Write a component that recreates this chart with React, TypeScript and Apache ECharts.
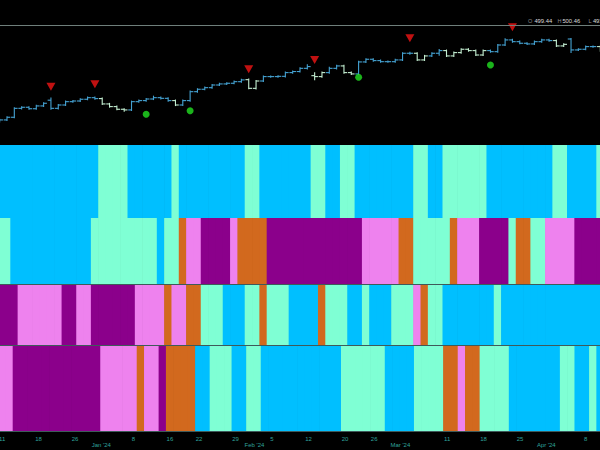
import React, { useEffect, useRef } from "react";
import * as echarts from "echarts";

const dates = [
  "2023-12-11","2023-12-12","2023-12-13","2023-12-14","2023-12-15","2023-12-18","2023-12-19","2023-12-20","2023-12-21","2023-12-22",
  "2023-12-26","2023-12-27","2023-12-28","2023-12-29","2024-01-02","2024-01-03","2024-01-04","2024-01-05","2024-01-08","2024-01-09",
  "2024-01-10","2024-01-11","2024-01-12","2024-01-16","2024-01-17","2024-01-18","2024-01-19","2024-01-22","2024-01-23","2024-01-24",
  "2024-01-25","2024-01-26","2024-01-29","2024-01-30","2024-01-31","2024-02-01","2024-02-02","2024-02-05","2024-02-06","2024-02-07",
  "2024-02-08","2024-02-09","2024-02-12","2024-02-13","2024-02-14","2024-02-15","2024-02-16","2024-02-20","2024-02-21","2024-02-22",
  "2024-02-23","2024-02-26","2024-02-27","2024-02-28","2024-02-29","2024-03-01","2024-03-04","2024-03-05","2024-03-06","2024-03-07",
  "2024-03-08","2024-03-11","2024-03-12","2024-03-13","2024-03-14","2024-03-15","2024-03-18","2024-03-19","2024-03-20","2024-03-21",
  "2024-03-22","2024-03-25","2024-03-26","2024-03-27","2024-03-28","2024-04-01","2024-04-02","2024-04-03","2024-04-04","2024-04-05",
  "2024-04-08","2024-04-09","2024-04-10",
];

const open = [
  457.6, 458.8, 460.8, 467.5, 468.3, 467.2, 469.3, 473.6, 467.5, 470.0,
  472.5, 473.0, 474.3, 475.5, 474.8, 470.8, 468.8, 466.8, 466.3, 472.5,
  473.3, 474.5, 475.5, 475.0, 473.3, 470.0, 473.3, 480.0, 481.8, 483.0,
  485.0, 485.8, 486.3, 487.5, 489.0, 482.5, 488.0, 491.3, 491.3, 491.5,
  494.3, 495.1, 497.5, 492.0, 491.3, 494.3, 497.5, 499.3, 494.3, 493.3,
  502.3, 504.3, 503.3, 502.5, 502.5, 503.8, 508.8, 508.8, 503.8, 506.8,
  508.8, 510.8, 506.8, 509.3, 511.8, 510.8, 507.5, 510.8, 510.0, 515.0,
  518.8, 517.5, 516.3, 515.8, 517.5, 518.8, 518.3, 514.3, 519.5, 511.3,
  511.8, 513.8, 513.8,
];
const close = [
  458.8, 460.8, 467.5, 468.3, 467.2, 469.3, 471.3, 467.5, 470.0, 472.5,
  473.0, 474.3, 475.5, 474.8, 470.8, 468.8, 466.8, 466.3, 472.5, 473.3,
  474.5, 475.5, 475.0, 473.3, 470.0, 473.3, 480.0, 481.8, 483.0, 485.0,
  485.8, 486.3, 487.5, 488.8, 482.5, 488.0, 491.3, 491.3, 491.5, 494.3,
  495.1, 497.5, 498.8, 491.3, 494.3, 497.5, 499.3, 494.3, 493.3, 502.3,
  504.3, 503.3, 502.5, 502.5, 503.8, 508.8, 508.8, 503.8, 506.8, 508.8,
  510.8, 506.8, 509.3, 511.8, 510.8, 507.5, 510.8, 510.0, 515.0, 518.8,
  517.5, 516.3, 515.8, 517.5, 518.8, 518.3, 514.3, 515.5, 511.3, 511.8,
  513.8, 513.8, 510.8,
];
const high = [
  459.6, 461.6, 468.3, 469.1, 469.1, 470.1, 472.1, 475.6, 470.8, 473.3,
  473.8, 475.1, 476.3, 476.3, 475.6, 471.6, 469.6, 467.6, 473.3, 474.1,
  475.3, 477.0, 476.3, 475.8, 474.1, 474.1, 480.8, 482.6, 483.8, 485.8,
  486.6, 487.1, 488.3, 489.6, 489.8, 488.8, 492.1, 492.1, 492.3, 495.1,
  495.9, 498.3, 500.5, 494.5, 495.1, 498.6, 500.1, 500.1, 495.1, 503.1,
  505.1, 505.1, 504.1, 503.3, 504.6, 509.6, 510.0, 509.6, 507.6, 509.6,
  512.0, 511.6, 510.1, 512.6, 512.6, 511.6, 511.6, 511.6, 515.8, 520.0,
  519.6, 518.3, 517.1, 518.3, 519.6, 519.6, 519.1, 516.3, 520.3, 512.6,
  514.6, 514.6, 514.6,
];
const low = [
  456.8, 458.0, 460.0, 466.7, 466.4, 466.4, 468.5, 466.5, 466.7, 469.2,
  471.7, 472.2, 473.5, 474.0, 470.0, 468.0, 466.0, 465.0, 465.5, 471.7,
  472.5, 473.7, 474.2, 472.5, 469.2, 469.2, 472.5, 479.2, 481.0, 482.2,
  484.2, 485.0, 485.5, 486.7, 481.8, 481.7, 487.2, 490.5, 490.5, 490.7,
  493.5, 494.3, 496.7, 488.5, 490.5, 493.5, 496.7, 493.5, 492.5, 492.5,
  501.5, 502.5, 501.7, 501.7, 501.7, 503.0, 507.6, 503.0, 503.0, 506.0,
  507.0, 506.0, 506.0, 508.5, 510.0, 506.7, 506.7, 509.2, 509.2, 514.2,
  516.7, 515.5, 515.0, 515.0, 516.7, 517.5, 513.5, 513.5, 509.0, 510.5,
  511.0, 513.0, 510.0,
];

// Signals
const sellDates = ["2023-12-20", "2023-12-29", "2024-01-31", "2024-02-13", "2024-03-04", "2024-03-22"];
const sellLevels = [483.7, 485.5, 496.8, 503.8, 520.0, 528.4];
const buyDates = ["2024-01-10", "2024-01-19", "2024-02-22", "2024-03-19"];
const buyLevels = [463.0, 465.7, 490.8, 500.0];

// Band panel states, one letter per trading day (B, A, P, V, C)
const bandTrend = "BBBBBBBBBBBBBBAAAABBBBBBABBBBBBBBBAABBBBBBBAABBAABBBBBBBBAABBAAAAAABBBBBBBBBAABBBBA".split("");
const bandCycle = "AABBBBBBBBBBBAAAAAAAAABAACVVPPPPVCCCCPPPPPPPPPPPPPVVVVVCCAAAAACVVVPPPPACCAAVVVVPPPP".split("");
const bandMomentum = "PPPVVVVVVPPVVPPPPPPVVVVCVVCCAAABBBAACAAABBBBCAAABBABBBAAAVCAABBBBBBBABBBBBBBBBBBBBB".split("");
const bandPressure = "VVPPPPPPPPPPPPVVVVVCVVPCCCCBBAAABBAABBBBBBBBBBBAAAAAABBBBAAAACCVCCAAAABBBBBBBAABBAB".split("");

const dayTicks = [
  "2023-12-11", "2023-12-18", "2023-12-26", "2024-01-08", "2024-01-16", "2024-01-22", "2024-01-29",
  "2024-02-05", "2024-02-12", "2024-02-20", "2024-02-26", "2024-03-11", "2024-03-18", "2024-03-25", "2024-04-08",
];
const monthTickDates = ["2024-01-02", "2024-02-01", "2024-03-01", "2024-04-01"];
const monthTickNames = ["Jan '24", "Feb '24", "Mar '24", "Apr '24"];

const BAND_COLORS: Record<string, string> = {
  B: "#00BFFF",
  A: "#7FFFD4",
  P: "#8B008B",
  V: "#EE82EE",
  C: "#D2691E",
};
const UP_COLOR = "#45a3d3";
const DOWN_COLOR = "#c4efd2";
const LABEL_COLOR = "#2fa39c";
const FONT = "'Liberation Sans', Arial, sans-serif";

// the chart canvas starts a little left of the visible frame so that the first day is cut in half
const SHIFT = 4.4;

export default function App() {
  const ref = useRef<HTMLDivElement>(null);

  useEffect(() => {
    if (!ref.current) return;
    const chart = echarts.init(ref.current, undefined, { renderer: "svg" });

    const bandSeries = (codes: string[], idx: number) => ({
      type: "custom",
      xAxisIndex: idx,
      yAxisIndex: idx,
      data: codes.map((c, i) => [i, 1, c]),
      encode: { x: 0, y: 1 },
      renderItem: (params: any, api: any) => {
        const i = api.value(0);
        const top = api.coord([i, 1]);
        const bot = api.coord([i, 0]);
        const w = api.size([1, 0])[0];
        const code = codes[i];
        return {
          type: "rect",
          shape: { x: top[0] - w / 2 - 0.35, y: top[1], width: w + 0.7, height: bot[1] - top[1] },
          style: { fill: BAND_COLORS[code] },
        };
      },
      silent: true,
      z: 2,
    });

    const bandXAxis = (gridIndex: number, showLine: boolean) => ({
      type: "category",
      gridIndex,
      data: dates,
      boundaryGap: true,
      position: "top",
      axisLine: { show: showLine, lineStyle: { color: "#3f5a5a", width: 1 } },
      axisTick: { show: false },
      axisLabel: { show: false },
      splitLine: { show: false },
      z: 10,
    });

    const bandYAxis = (gridIndex: number) => ({
      type: "value",
      gridIndex,
      min: 0,
      max: 1,
      show: false,
    });

    const txt = (x: number, text: string, fill: string, size: number) => ({
      type: "text",
      left: x + SHIFT,
      top: 18,
      style: { text, fill, fontSize: size, fontFamily: FONT },
    });

    const option: any = {
      animation: false,
      backgroundColor: "#000000",
      grid: [
        { left: 0, right: 0, top: 25, height: 118 },
        { left: 0, right: 0, top: 145, height: 73 },
        { left: 0, right: 0, top: 218, height: 66 },
        { left: 0, right: 0, top: 284, height: 61 },
        { left: 0, right: 0, top: 345, height: 86 },
      ],
      xAxis: [
        {
          type: "category",
          gridIndex: 0,
          data: dates,
          boundaryGap: true,
          position: "top",
          axisLine: { show: true, lineStyle: { color: "#6f7f7b", width: 1 } },
          axisTick: { show: false },
          axisLabel: { show: false },
          splitLine: { show: false },
          z: 10,
        },
        bandXAxis(1, false),
        bandXAxis(2, true),
        bandXAxis(3, true),
        bandXAxis(4, true),
        {
          type: "category",
          gridIndex: 4,
          data: dates,
          boundaryGap: true,
          position: "bottom",
          axisLine: { show: false },
          axisTick: { show: false },
          splitLine: { show: false },
          axisLabel: {
            show: true,
            interval: (_i: number, v: string) => dayTicks.includes(v),
            formatter: (v: string) => String(parseInt(v.slice(8), 10)),
            color: LABEL_COLOR,
            fontSize: 6,
            fontFamily: FONT,
            margin: 4.5,
          },
        },
        {
          type: "category",
          gridIndex: 4,
          data: dates,
          boundaryGap: true,
          position: "bottom",
          axisLine: { show: false },
          axisTick: { show: false },
          splitLine: { show: false },
          axisLabel: {
            show: true,
            interval: (_i: number, v: string) => monthTickDates.includes(v),
            formatter: (v: string) => {
              const k = monthTickDates.indexOf(v);
              return k >= 0 ? monthTickNames[k] : "";
            },
            padding: [0, 6, 0, 0],
            color: LABEL_COLOR,
            fontSize: 6,
            fontFamily: FONT,
            margin: 11,
          },
        },
      ],
      yAxis: [
        { type: "value", gridIndex: 0, min: 441.5, max: 530, show: false },
        bandYAxis(1),
        bandYAxis(2),
        bandYAxis(3),
        bandYAxis(4),
      ],
      graphic: [
        txt(527.5, "O", "#8c8c8c", 5.5),
        txt(534, "499.44", "#dcdcdc", 5.8),
        txt(557, "H", "#8c8c8c", 5.5),
        txt(562, "500.46", "#dcdcdc", 5.8),
        txt(588, "L", "#8c8c8c", 5.5),
        txt(592.5, "493.88", "#dcdcdc", 5.8),
      ],
      series: [
        {
          type: "custom",
          name: "Price",
          xAxisIndex: 0,
          yAxisIndex: 0,
          data: dates.map((_d, i) => [i, open[i], close[i], low[i], high[i]]),
          encode: { x: 0, y: [1, 2, 3, 4] },
          renderItem: (params: any, api: any) => {
            const i = api.value(0);
            const pO = api.coord([i, api.value(1)]);
            const pC = api.coord([i, api.value(2)]);
            const pL = api.coord([i, api.value(3)]);
            const pH = api.coord([i, api.value(4)]);
            const w = api.size([1, 0])[0];
            const t = w * 0.45;
            const color = bandTrend[i] === "B" ? UP_COLOR : DOWN_COLOR;
            const st = { stroke: color, lineWidth: 1.1 };
            return {
              type: "group",
              children: [
                { type: "line", shape: { x1: pH[0], y1: pH[1], x2: pL[0], y2: pL[1] }, style: st },
                { type: "line", shape: { x1: pO[0] - t, y1: pO[1], x2: pO[0], y2: pO[1] }, style: st },
                { type: "line", shape: { x1: pC[0], y1: pC[1], x2: pC[0] + t, y2: pC[1] }, style: st },
              ],
            };
          },
          z: 3,
        },
        {
          type: "scatter",
          name: "Sell",
          xAxisIndex: 0,
          yAxisIndex: 0,
          symbol: "triangle",
          symbolRotate: 180,
          symbolSize: [9, 8],
          itemStyle: { color: "#f01515" },
          data: sellDates.map((d, i) => [d, sellLevels[i]]),
          z: 4,
        },
        {
          type: "scatter",
          name: "Buy",
          xAxisIndex: 0,
          yAxisIndex: 0,
          symbol: "circle",
          symbolSize: 7,
          itemStyle: { color: "#22e022" },
          data: buyDates.map((d, i) => [d, buyLevels[i]]),
          z: 4,
        },
        bandSeries(bandTrend, 1),
        bandSeries(bandCycle, 2),
        bandSeries(bandMomentum, 3),
        bandSeries(bandPressure, 4),
      ],
    };

    chart.setOption(option);
    return () => chart.dispose();
  }, []);

  return (
    <div
      style={{
        position: "absolute",
        left: 0,
        top: 0,
        width: 600,
        height: 450,
        overflow: "hidden",
        background: "#000",
      }}
    >
      <div
        ref={ref}
        style={{ position: "absolute", left: -SHIFT, top: 0, width: 608, height: 450 }}
      />
    </div>
  );
}
